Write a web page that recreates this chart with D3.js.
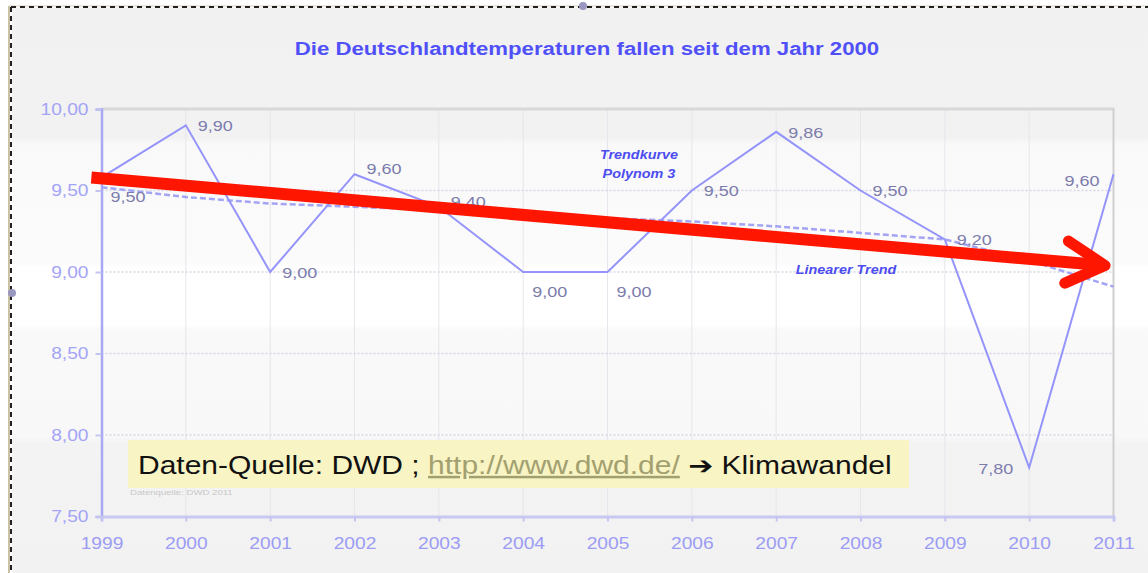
<!DOCTYPE html>
<html>
<head>
<meta charset="utf-8">
<script src="https://cdn.jsdelivr.net/npm/d3@7"></script>
<style>
  body { margin: 0; background: #fff; }
  svg { display: block; }
  text { font-family: "Liberation Sans", Arial, sans-serif; }
</style>
</head>
<body>
<svg id="chart"></svg>
<script>
// yearly mean temperature Germany (DWD), as shown in the chart
const years = [1999, 2000, 2001, 2002, 2003, 2004, 2005, 2006, 2007, 2008, 2009, 2010, 2011]
const temps = [9.58, 9.90, 9.00, 9.60, 9.40, 9.00, 9.00, 9.50, 9.86, 9.50, 9.20, 7.80, 9.60]
const pointLabels = ['9,50', '9,90', '9,00', '9,60', '9,40', '9,00', '9,00', '9,50', '9,86', '9,50', '9,20', '7,80', '9,60']
const labelSide = ['rb', 'r', 'r', 'ru', 'ru', 'rb', 'rb', 'r', 'r', 'r', 'r', 'l', 'lb']
const polyTrend = [9.52, 9.46, 9.42, 9.40, 9.38, 9.35, 9.33, 9.31, 9.28, 9.24, 9.20, 9.07, 8.91]
const linYears = [1999, 2011]
const linTrend = [9.55, 9.04]
const yTicks = [7.5, 8.0, 8.5, 9.0, 9.5, 10.0]
// red arrow drawn over the chart (year, value)
const arrowFrom = [1998.88, 9.58]
const arrowTo = [2010.9, 9.04]

const width = 1148, height = 573
const svg = d3.select('#chart').attr('width', width).attr('height', height)

// the picture is stretched sideways, so is the lettering
const XS = 1.2
function stretch(sel) {
  sel.each(function () {
    const t = d3.select(this)
    const tx = +t.attr('x') || 0, ty = +t.attr('y') || 0
    t.attr('transform', `translate(${tx},${ty}) scale(${XS},1) translate(${-tx},${-ty})`)
  })
}

// background, banded grey-white-grey
const defs = svg.append('defs')
const grad = defs.append('linearGradient').attr('id', 'bg').attr('x1', 0).attr('x2', 0).attr('y1', 0).attr('y2', 1)
const stops = [[0, '#f1f1f1'], [0.23, '#f2f2f2'], [0.24, '#f9f9f9'], [0.45, '#fbfbfb'], [0.46, '#ffffff'],
  [0.56, '#ffffff'], [0.57, '#f9f9f9'], [0.76, '#f8f8f8'], [0.77, '#f3f3f3'], [1, '#f2f2f2']]
stops.forEach(s => grad.append('stop').attr('offset', s[0]).attr('stop-color', s[1]))
svg.append('rect').attr('x', 12).attr('y', 8).attr('width', width - 12).attr('height', height - 8).attr('fill', 'url(#bg)')

// frame of the embedded object
svg.append('line').attr('x1', 9).attr('x2', 9).attr('y1', 6).attr('y2', height).attr('stroke', '#c9c2a2').attr('stroke-width', 2)
svg.append('line').attr('x1', 9).attr('x2', width).attr('y1', 6).attr('y2', 6).attr('stroke', '#d8d2b8').attr('stroke-width', 1)
svg.append('line').attr('x1', 11).attr('x2', 11).attr('y1', 7).attr('y2', height)
  .attr('stroke', '#222').attr('stroke-width', 2).attr('stroke-dasharray', '5,4')
svg.append('line').attr('x1', 11).attr('x2', width).attr('y1', 7).attr('y2', 7)
  .attr('stroke', '#222').attr('stroke-width', 2).attr('stroke-dasharray', '5,4')
svg.append('circle').attr('cx', 12).attr('cy', 293).attr('r', 4).attr('fill', '#9a98c0')
svg.append('circle').attr('cx', 583).attr('cy', 6).attr('r', 4).attr('fill', '#9a98c0')

const x = d3.scaleLinear().domain([1999, 2011]).range([101.5, 1113.5])
const y = d3.scaleLinear().domain([7.5, 10]).range([516.5, 109])

// title
svg.append('text').attr('x', 587).attr('y', 55).attr('text-anchor', 'middle')
  .attr('font-size', 18.5).attr('font-weight', 'bold').attr('fill', '#5050f8')
  .text('Die Deutschlandtemperaturen fallen seit dem Jahr 2000')
  .call(stretch)

// vertical grid
svg.append('g').selectAll('line').data(years.slice(1, -1)).enter().append('line')
  .attr('x1', d => x(d)).attr('x2', d => x(d)).attr('y1', y(10)).attr('y2', y(7.5))
  .attr('stroke', '#e6e6ec').attr('stroke-width', 1)
// horizontal dotted grid
svg.append('g').selectAll('line').data(yTicks.slice(1, -1)).enter().append('line')
  .attr('x1', x(1999)).attr('x2', x(2011)).attr('y1', d => y(d)).attr('y2', d => y(d))
  .attr('stroke', '#d6d6e4').attr('stroke-width', 1.5).attr('stroke-dasharray', '2,2')
// plot border top/right
svg.append('line').attr('x1', x(1999)).attr('x2', x(2011) + 1).attr('y1', y(10)).attr('y2', y(10))
  .attr('stroke', '#d8d8d8').attr('stroke-width', 3)
svg.append('line').attr('x1', x(2011)).attr('x2', x(2011)).attr('y1', y(10)).attr('y2', y(7.5))
  .attr('stroke', '#cfcfcf').attr('stroke-width', 2)

// axes
const yAxis = d3.axisLeft(y).tickValues(yTicks).tickSize(6).tickPadding(8)
  .tickFormat(d => d3.format('.2f')(d).replace('.', ','))
const gy = svg.append('g').attr('transform', `translate(${x(1999)},0)`).call(yAxis)
gy.select('.domain').attr('stroke', '#a8a8f4').attr('stroke-width', 2.5)
gy.selectAll('.tick line').attr('stroke', '#c4c4f0').attr('stroke-width', 2)
gy.selectAll('.tick text').attr('fill', '#a4a4f6').attr('font-size', 16).attr('font-family', '"Liberation Sans", Arial, sans-serif')
  .attr('x', -13).call(stretch)

const xAxis = d3.axisBottom(x).tickValues(years).tickSize(5).tickPadding(16).tickFormat(d3.format('d'))
const gx = svg.append('g').attr('transform', `translate(0,${y(7.5)})`).call(xAxis)
gx.select('.domain').attr('stroke', '#c8c8f0').attr('stroke-width', 3)
gx.selectAll('.tick line').attr('stroke', '#c4c4f0').attr('stroke-width', 2)
gx.selectAll('.tick text').attr('fill', '#9c9cf4').attr('font-size', 16).attr('font-family', '"Liberation Sans", Arial, sans-serif')
  .attr('x', 0).call(stretch)

// trend lines
const trendLine = d3.line().x((d, i) => x(years[i])).y(d => y(d))
svg.append('path').datum(polyTrend).attr('d', trendLine).attr('fill', 'none')
  .attr('stroke', '#a4a4f4').attr('stroke-width', 2.5).attr('stroke-dasharray', '6,3')
svg.append('path').datum(linTrend).attr('d', d3.line().x((d, i) => x(linYears[i])).y(d => y(d)))
  .attr('fill', 'none').attr('stroke', '#b4b4f4').attr('stroke-width', 1.5).attr('stroke-dasharray', '4,3')

// temperature line
const tempLine = d3.line().x((d, i) => x(years[i])).y(d => y(d))
svg.append('path').datum(temps).attr('d', tempLine).attr('fill', 'none')
  .attr('stroke', '#9494fa').attr('stroke-width', 2)

// point labels
const off = { r: [12, 6, 'start'], rb: [9, 25, 'start'], ru: [12, 0, 'start'], l: [-16, 6, 'end'], lb: [-14, 12, 'end'] }
svg.append('g').selectAll('text').data(temps).enter().append('text')
  .attr('x', (d, i) => x(years[i]) + off[labelSide[i]][0])
  .attr('y', (d, i) => y(d) + off[labelSide[i]][1])
  .attr('text-anchor', (d, i) => off[labelSide[i]][2])
  .attr('font-size', 15).attr('fill', '#7c7cac')
  .text((d, i) => pointLabels[i])
  .call(stretch)

// trend annotations
const note = svg.append('g').attr('font-size', 12).attr('font-weight', 'bold').attr('font-style', 'italic').attr('fill', '#4c4cf0')
note.append('text').attr('x', 639).attr('y', 159).attr('text-anchor', 'middle').text('Trendkurve').call(stretch)
note.append('text').attr('x', 639).attr('y', 178).attr('text-anchor', 'middle').text('Polynom 3').call(stretch)
note.append('text').attr('x', 846).attr('y', 274).attr('text-anchor', 'middle').text('Linearer Trend').call(stretch)

// source box
svg.append('text').attr('x', 130).attr('y', 495).attr('font-size', 8).attr('fill', '#c8c8c8')
  .text('Datenquelle: DWD 2011').call(stretch)
svg.append('rect').attr('x', 128).attr('y', 440).attr('width', 781).attr('height', 48).attr('fill', '#f8f4c4')
const src = svg.append('text').attr('x', 138).attr('y', 474).attr('font-size', 25).attr('fill', '#111')
src.append('tspan').text('Daten-Quelle: DWD ; ')
src.append('tspan').attr('fill', '#a3a070').attr('text-decoration', 'underline').text('http://www.dwd.de/')
src.append('tspan').text(' ')
src.append('tspan').attr('font-family', '"DejaVu Sans", sans-serif').attr('font-weight', 'bold').text('➔')
src.append('tspan').text(' Klimawandel')
src.call(stretch)

// red arrow
const ax0 = x(arrowFrom[0]), ay0 = y(arrowFrom[1]), ax1 = x(arrowTo[0]), ay1 = y(arrowTo[1])
const ang = Math.atan2(ay1 - ay0, ax1 - ax0)
const head = 44
const barb = a => [ax1 - head * Math.cos(ang + a), ay1 - head * Math.sin(ang + a)]
const red = svg.append('g').attr('stroke', '#ff1600').attr('fill', 'none')
red.append('line').attr('x1', ax0).attr('y1', ay0)
  .attr('x2', ax1 - 8 * Math.cos(ang)).attr('y2', ay1 - 8 * Math.sin(ang)).attr('stroke-width', 12)
red.append('path').attr('d', d3.line()([barb(0.5), [ax1, ay1], barb(-0.5)]))
  .attr('stroke-width', 11).attr('stroke-linejoin', 'round').attr('stroke-linecap', 'round')
</script>
</body>
</html>
